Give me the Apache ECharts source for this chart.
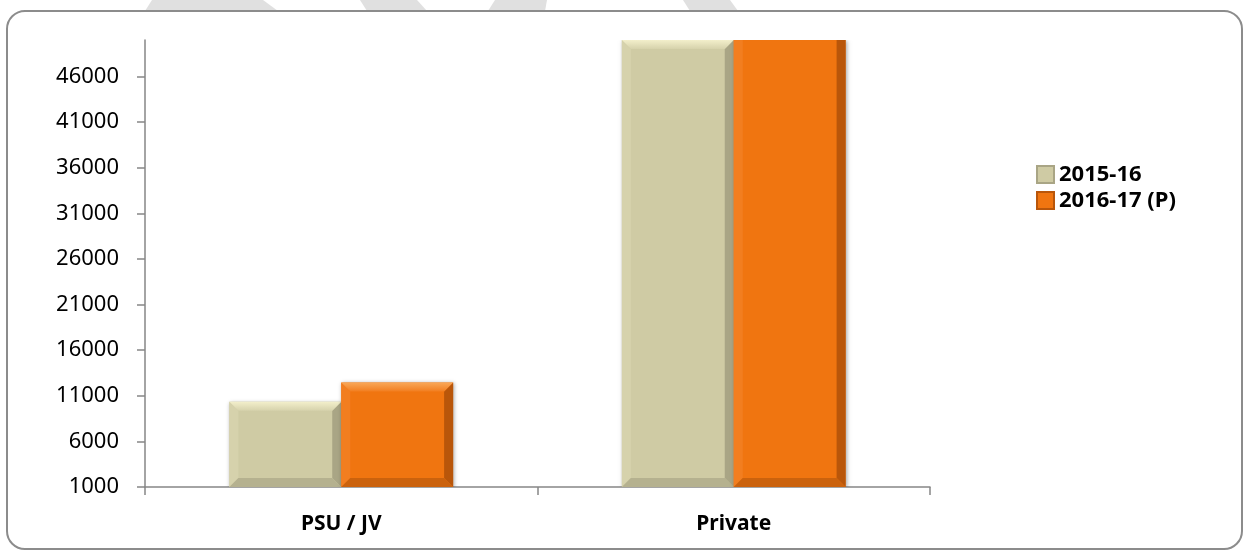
<!DOCTYPE html>
<html>
<head>
<meta charset="utf-8">
<title>PSU / JV vs Private</title>
<script src="https://cdn.jsdelivr.net/npm/echarts@6/dist/echarts.min.js"></script>
<style>
  html, body { margin: 0; padding: 0; background: #ffffff; }
  #chart { width: 1244px; height: 550px; }
</style>
</head>
<body>
<div id="chart"></div>
<script>
// Categories, series values and y tick labels
const categories = ['PSU / JV', 'Private'];
const seriesNames = ['2015-16', '2016-17 (P)'];
const values2015 = [10350, 50000];
const values2016 = [12460, 56000];
const yTicks = [1000, 6000, 11000, 16000, 21000, 26000, 31000, 36000, 41000, 46000];

const FONT = '"Noto Sans", "Open Sans", sans-serif';

// Colour sets for the bevelled bars: base, light top, left, right, bottom
const palettes = [
  { base: '#CFCBA4', top: '#F3EFCB', left: '#D6D2AC', right: '#A9A585', bottom: '#B5B18F' },
  { base: '#F07510', top: '#F9A858', left: '#F27E20', right: '#B9560A', bottom: '#CB620D' }
];

// Bevelled bar drawn from the axis scales; each series takes one half of the pair
function makeRenderer(seriesIdx) {
  return function (params, api) {
    const ci = api.value(0);
    const val = api.value(1);
    const base = api.coord([ci, yTicks[0]]);
    const top = api.coord([ci, val]);
    const band = api.size([1, 0])[0];
    const bw = band * 0.285;
    const x0 = seriesIdx === 0 ? base[0] - bw : base[0];
    const x1 = x0 + bw;
    const cs = params.coordSys;
    const clipped = top[1] < cs.y;
    const yt = Math.max(top[1], cs.y);
    const yb = base[1];
    const b = Math.min(9, (yb - yt) / 2);
    const p = palettes[seriesIdx];
    const children = [
      {
        type: 'rect',
        shape: { x: x0, y: yt, width: bw, height: yb - yt },
        style: { fill: p.base, shadowBlur: 4, shadowColor: 'rgba(0,0,0,0.35)', shadowOffsetX: 1, shadowOffsetY: 1 }
      },
      {
        type: 'polygon',
        shape: { points: [[x0, yt], [x0 + b, clipped ? yt : yt + b], [x0 + b, yb - b], [x0, yb]] },
        style: { fill: p.left }
      },
      {
        type: 'polygon',
        shape: { points: [[x1, yt], [x1 - b, clipped ? yt : yt + b], [x1 - b, yb - b], [x1, yb]] },
        style: { fill: p.right }
      },
      {
        type: 'polygon',
        shape: { points: [[x0, yb], [x0 + b, yb - b], [x1 - b, yb - b], [x1, yb]] },
        style: { fill: p.bottom }
      }
    ];
    if (!clipped) {
      children.push({
        type: 'polygon',
        shape: { points: [[x0, yt], [x1, yt], [x1 - b, yt + b], [x0 + b, yt + b]] },
        style: {
          fill: {
            type: 'linear', x: 0, y: 0, x2: 0, y2: 1,
            colorStops: [{ offset: 0, color: p.top }, { offset: 1, color: p.left }]
          }
        }
      });
    }
    return { type: 'group', children: children };
  };
}

function seriesData(vals) {
  return vals.map((v, i) => [i, v]);
}

const axisGray = '#868686';

const option = {
  backgroundColor: '#ffffff',
  animation: false,
  grid: { left: 145, right: 314, top: 40, bottom: 63, containLabel: false },
  legend: {
    orient: 'vertical',
    left: 1031,
    top: 157,
    itemWidth: 17,
    itemHeight: 17,
    itemGap: 1,
    icon: 'rect',
    textStyle: { fontFamily: FONT, fontSize: 22, fontWeight: 'bold', color: '#000000', lineHeight: 25 },
    data: seriesNames
  },
  xAxis: {
    type: 'category',
    data: categories,
    boundaryGap: true,
    axisLine: { lineStyle: { color: axisGray, width: 1.5 } },
    axisTick: { show: true, alignWithLabel: false, length: 8, lineStyle: { color: axisGray, width: 1.5 } },
    axisLabel: { fontFamily: FONT, fontSize: 21, fontWeight: 'bold', color: '#000000', margin: 27 },
    splitLine: { show: false }
  },
  yAxis: {
    type: 'value',
    min: 1000,
    max: 50000,
    interval: 5000,
    axisLine: { show: true, lineStyle: { color: axisGray, width: 1.5 } },
    axisTick: { show: true, length: 8, customValues: yTicks, lineStyle: { color: axisGray, width: 1.5 } },
    axisLabel: {
      fontFamily: FONT, fontSize: 22, color: '#000000', margin: 26, customValues: yTicks,
      formatter: (v) => String(v)
    },
    splitLine: { show: false }
  },
  series: [
    {
      name: seriesNames[0],
      type: 'custom',
      itemStyle: { color: palettes[0].base, borderColor: '#A9A585', borderWidth: 1 },
      encode: { x: 0, y: 1 },
      data: seriesData(values2015),
      renderItem: makeRenderer(0),
      clip: true
    },
    {
      name: seriesNames[1],
      type: 'custom',
      itemStyle: { color: palettes[1].base, borderColor: '#B9560A', borderWidth: 1 },
      encode: { x: 0, y: 1 },
      data: seriesData(values2016),
      renderItem: makeRenderer(1),
      clip: true
    }
  ],
  graphic: [
    { type: 'polygon', z: -10, shape: { points: [[152, 0], [263, 0], [278, 11], [145, 11]] }, style: { fill: '#E0E0E0' } },
    { type: 'polygon', z: -10, shape: { points: [[360, 0], [417, 0], [427, 11], [367, 11]] }, style: { fill: '#E0E0E0' } },
    { type: 'polygon', z: -10, shape: { points: [[495, 0], [547, 0], [545, 11], [488, 11]] }, style: { fill: '#E0E0E0' } },
    { type: 'polygon', z: -10, shape: { points: [[683, 0], [730, 0], [738, 11], [690, 11]] }, style: { fill: '#E0E0E0' } },
    {
      type: 'rect', z: -5,
      shape: { x: 7, y: 11, width: 1235, height: 538, r: 18 },
      style: { fill: '#ffffff', stroke: '#8C8C8C', lineWidth: 2 }
    }
  ]
};

const chart = echarts.init(document.getElementById('chart'), null, { renderer: 'canvas' });
chart.setOption(option);
</script>
</body>
</html>
